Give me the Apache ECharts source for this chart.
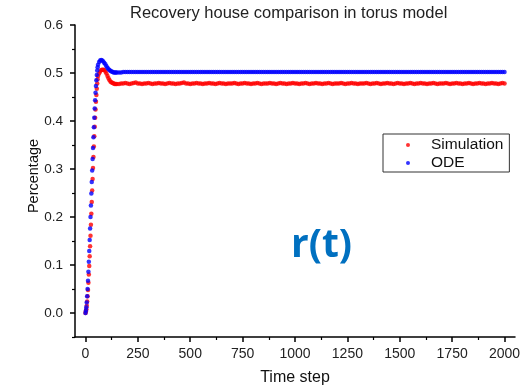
<!DOCTYPE html>
<html>
<head>
<meta charset="utf-8">
<script src="https://cdn.jsdelivr.net/npm/echarts@6/dist/echarts.min.js"></script>
<style>
html,body{margin:0;padding:0;background:#fff;}
#chart{width:531px;height:389px;}
</style>
</head>
<body>
<div id="chart"></div>
<script>
// ---- data ----
const timeSteps = [
  0,2,4,6,8,10,12,14,16,18,20,22,24,26,28,30,32,34,36,38,40,42,44,46,48,50,52,54,56,58,60,
  65,70,75,80,85,90,95,100,105,110,115,120,125,130,135,140,145,150,
  160,170,180,190,200,210,220,230,240,250,260,270,280,290,300,310,320,330,340,350,
  360,370,380,390,400,410,420,430,440,450,460,470,480,490,500,510,520,530,540,550,
  560,570,580,590,600,610,620,630,640,650,660,670,680,690,700,710,720,730,740,750,
  760,770,780,790,800,810,820,830,840,850,860,870,880,890,900,910,920,930,940,950,
  960,970,980,990,1000,1010,1020,1030,1040,1050,1060,1070,1080,1090,1100,1110,1120,1130,1140,1150,
  1160,1170,1180,1190,1200,1210,1220,1230,1240,1250,1260,1270,1280,1290,1300,1310,1320,1330,1340,1350,
  1360,1370,1380,1390,1400,1410,1420,1430,1440,1450,1460,1470,1480,1490,1500,1510,1520,1530,1540,1550,
  1560,1570,1580,1590,1600,1610,1620,1630,1640,1650,1660,1670,1680,1690,1700,1710,1720,1730,1740,1750,
  1760,1770,1780,1790,1800,1810,1820,1830,1840,1850,1860,1870,1880,1890,1900,1910,1920,1930,1940,1950,
  1960,1970,1980,1990,2000
];
const simulationValues = [
  0.000,0.003,0.008,0.015,0.024,0.035,0.048,0.063,0.080,0.098,0.118,0.139,0.161,0.184,0.207,0.231,0.255,0.279,0.302,0.325,0.347,0.368,0.388,0.407,0.424,0.440,0.454,0.467,0.478,0.487,0.494,
  0.499,0.503,0.506,0.507,0.507,0.506,0.503,0.499,0.494,0.489,0.485,0.482,0.480,0.479,0.478,0.477,0.477,0.477,
  0.477,0.478,0.478,0.479,0.478,0.477,0.478,0.479,0.480,0.478,0.478,0.477,0.478,0.478,0.479,0.478,0.477,0.478,0.478,0.479,
  0.478,0.478,0.477,0.478,0.479,0.478,0.478,0.477,0.478,0.478,0.479,0.480,0.478,0.478,0.477,0.478,0.478,0.479,0.478,0.478,
  0.477,0.478,0.478,0.479,0.478,0.478,0.477,0.478,0.479,0.478,0.478,0.477,0.478,0.478,0.478,0.479,0.478,0.477,0.478,0.478,
  0.479,0.478,0.478,0.477,0.478,0.478,0.479,0.478,0.477,0.478,0.478,0.478,0.479,0.478,0.478,0.477,0.478,0.479,0.478,0.478,
  0.477,0.478,0.478,0.479,0.478,0.478,0.477,0.478,0.478,0.479,0.478,0.477,0.478,0.478,0.479,0.478,0.478,0.477,0.478,0.478,
  0.479,0.478,0.477,0.478,0.478,0.478,0.479,0.478,0.477,0.478,0.478,0.479,0.478,0.478,0.477,0.478,0.478,0.478,0.479,0.478,
  0.477,0.478,0.478,0.479,0.478,0.477,0.478,0.478,0.479,0.478,0.478,0.477,0.478,0.479,0.478,0.478,0.477,0.478,0.478,0.479,
  0.478,0.477,0.478,0.478,0.479,0.478,0.478,0.477,0.478,0.478,0.479,0.478,0.477,0.478,0.478,0.478,0.479,0.478,0.477,0.478,
  0.478,0.479,0.478,0.478,0.477,0.478,0.478,0.479,0.478,0.477,0.478,0.478,0.479,0.478,0.478,0.477,0.478,0.478,0.479,0.478,
  0.478,0.477,0.478,0.479,0.478
];
const odeValues = [
  0.000,0.005,0.012,0.022,0.035,0.050,0.067,0.086,0.107,0.129,0.152,0.176,0.200,0.224,0.249,0.273,0.297,0.321,0.344,0.366,0.387,0.407,0.426,0.443,0.459,0.473,0.485,0.496,0.505,0.512,0.517,
  0.523,0.526,0.527,0.526,0.524,0.521,0.518,0.514,0.511,0.508,0.506,0.504,0.503,0.502,0.501,0.501,0.501,0.501,
  0.501,0.501,0.502,0.502,0.502,0.502,0.502,0.502,0.502,0.502,0.502,0.502,0.502,0.502,0.502,0.502,0.502,0.502,0.502,0.502,
  0.502,0.502,0.502,0.502,0.502,0.502,0.502,0.502,0.502,0.502,0.502,0.502,0.502,0.502,0.502,0.502,0.502,0.502,0.502,0.502,
  0.502,0.502,0.502,0.502,0.502,0.502,0.502,0.502,0.502,0.502,0.502,0.502,0.502,0.502,0.502,0.502,0.502,0.502,0.502,0.502,
  0.502,0.502,0.502,0.502,0.502,0.502,0.502,0.502,0.502,0.502,0.502,0.502,0.502,0.502,0.502,0.502,0.502,0.502,0.502,0.502,
  0.502,0.502,0.502,0.502,0.502,0.502,0.502,0.502,0.502,0.502,0.502,0.502,0.502,0.502,0.502,0.502,0.502,0.502,0.502,0.502,
  0.502,0.502,0.502,0.502,0.502,0.502,0.502,0.502,0.502,0.502,0.502,0.502,0.502,0.502,0.502,0.502,0.502,0.502,0.502,0.502,
  0.502,0.502,0.502,0.502,0.502,0.502,0.502,0.502,0.502,0.502,0.502,0.502,0.502,0.502,0.502,0.502,0.502,0.502,0.502,0.502,
  0.502,0.502,0.502,0.502,0.502,0.502,0.502,0.502,0.502,0.502,0.502,0.502,0.502,0.502,0.502,0.502,0.502,0.502,0.502,0.502,
  0.502,0.502,0.502,0.502,0.502,0.502,0.502,0.502,0.502,0.502,0.502,0.502,0.502,0.502,0.502,0.502,0.502,0.502,0.502,0.502,
  0.502,0.502,0.502,0.502,0.502
];
const xMajorTicks = [0,250,500,750,1000,1250,1500,1750,2000];
const xMinorTicks = [125,375,625,875,1125,1375,1625,1875];
const yMajorTicks = [0,0.1,0.2,0.3,0.4,0.5,0.6];
const yMinorTicks = [-0.05,0.05,0.15,0.25,0.35,0.45,0.55];
const seriesNames = ['Simulation','ODE'];
const titleText = 'Recovery house comparison in torus model';
const xName = 'Time step';
const yName = 'Percentage';
const annotation = 'r(t)';

const pairs = (xs, ys) => xs.map((x, i) => [x, ys[i]]);
const FONT = '"Liberation Sans", Arial, sans-serif';
const axisCol = '#000';

const chart = echarts.init(document.getElementById('chart'), null, {renderer: 'canvas'});

function xAx(extra) {
  return Object.assign({type: 'value', gridIndex: 0, min: -50, max: 2050, position: 'bottom',
    splitLine: {show: false}, axisLine: {show: false, onZero: false},
    axisTick: {show: false}, axisLabel: {show: false}}, extra);
}
function yAx(extra) {
  return Object.assign({type: 'value', gridIndex: 0, min: -0.05, max: 0.6, position: 'left',
    splitLine: {show: false}, axisLine: {show: false, onZero: false},
    axisTick: {show: false}, axisLabel: {show: false}}, extra);
}

chart.setOption({
  animation: false,
  backgroundColor: '#fff',
  grid: {left: 75, top: 25, width: 440, height: 312, containLabel: false, outerBoundsMode: 'none'},
  xAxis: [
    xAx({
      name: xName, nameLocation: 'middle', nameGap: 33,
      nameTextStyle: {fontFamily: FONT, fontSize: 16, color: '#111'},
      axisLine: {show: true, onZero: false, lineStyle: {color: axisCol, width: 1.5}},
      axisLabel: {show: true, customValues: xMajorTicks, margin: 10, fontFamily: FONT, fontSize: 14, color: '#222',
        formatter: v => String(Math.round(v))}
    }),
    xAx({axisTick: {show: true, inside: false, length: 5, customValues: xMajorTicks, lineStyle: {color: axisCol, width: 1.5}}}),
    xAx({axisTick: {show: true, inside: false, length: 3, customValues: xMinorTicks, lineStyle: {color: axisCol, width: 1.2}}})
  ],
  yAxis: [
    yAx({
      axisLine: {show: true, onZero: false, lineStyle: {color: axisCol, width: 1.5}},
      axisLabel: {show: true, customValues: yMajorTicks, margin: 12, fontFamily: FONT, fontSize: 13.5, color: '#222',
        formatter: v => Number(v).toFixed(1)}
    }),
    yAx({axisTick: {show: true, inside: false, length: 5, customValues: yMajorTicks, lineStyle: {color: axisCol, width: 1.5}}}),
    yAx({axisTick: {show: true, inside: false, length: 3, customValues: yMinorTicks, lineStyle: {color: axisCol, width: 1.2}}})
  ],
  legend: {
    orient: 'vertical', left: 383, top: 134,
    data: seriesNames, icon: 'circle', itemWidth: 30, itemHeight: 4, itemGap: 2,
    padding: [3, 6, 1, 23],
    borderColor: '#333', borderWidth: 1, backgroundColor: '#fff',
    textStyle: {fontFamily: FONT, fontSize: 15.5, color: '#111', padding: [0, 0, 0, 3]}
  },
  graphic: [
    {type: 'text', left: 288 - 158, top: 5,
      style: {text: titleText, font: '16.5px "Liberation Sans", Arial, sans-serif', fill: '#222'}},
    {type: 'text', x: 33.5, y: 176, rotation: Math.PI / 2,
      style: {text: yName, font: '14.5px "Liberation Sans", Arial, sans-serif', fill: '#111', align: 'center', verticalAlign: 'middle'}},
    {type: 'text', left: 291, top: 226,
      style: {text: annotation, font: 'bold 39px "Open Sans", sans-serif', fill: '#0070C0'}}
  ],
  series: [
    {name: seriesNames[0], type: 'scatter', xAxisIndex: 0, yAxisIndex: 0,
      symbol: 'circle', symbolSize: 4.5, itemStyle: {color: '#ff0000'},
      data: pairs(timeSteps, simulationValues)},
    {name: seriesNames[1], type: 'scatter', xAxisIndex: 0, yAxisIndex: 0,
      symbol: 'circle', symbolSize: 4.5, itemStyle: {color: '#0000ff'},
      data: pairs(timeSteps, odeValues)}
  ]
});
</script>
</body>
</html>
